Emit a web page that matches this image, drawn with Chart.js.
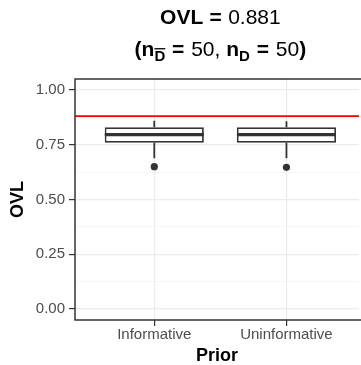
<!DOCTYPE html>
<html>
<head>
<meta charset="utf-8">
<script src="https://cdn.jsdelivr.net/npm/chart.js@4.4.1/dist/chart.umd.min.js"></script>
<style>
    html, body { margin: 0; padding: 0; background: #ffffff; overflow: hidden; }
    #wrap { width: 361px; height: 365px; overflow: hidden; }
    canvas { display: block; }
</style>
</head>
<body>
<div id="wrap"><canvas id="ovlChart" width="363" height="365"></canvas></div>
<script>
// Boxplot summaries per prior
const priors = ['Informative', 'Uninformative'];
const whiskerLow = [0.688, 0.688];
const q1 = [0.759, 0.759];
const medians = [0.796, 0.796];
const q3 = [0.830, 0.830];
const whiskerHigh = [0.860, 0.857];
const outliers = [[0.650], [0.647]];

// Reference overlap and sample sizes
const ovl = 0.881;
const nDbar = 50;
const nD = 50;

// Axis ticks
const yMajor = [0, 0.25, 0.5, 0.75, 1];
const yMinor = [0.125, 0.375, 0.625, 0.875];

const FONT = "'Liberation Sans', Arial, Helvetica, sans-serif";
const DARK = '#333333';

// the panel runs 0.4..2.6 but is cut at the canvas edge
const X_MIN = 0.4;
const X_FULL_MAX = 2.6;
const X_VISIBLE_MAX = 2.549;

const boxData = priors.map((p, i) => ({ x: i + 1, y: [q1[i], q3[i]] }));
const outlierData = [];
outliers.forEach((vals, i) => vals.forEach(v => outlierData.push({ x: i + 1, y: v })));

// Whiskers go under the boxes
const whiskerPlugin = {
    id: 'whiskers',
    beforeDatasetsDraw(chart) {
        const { ctx, scales: { x, y } } = chart;
        ctx.save();
        ctx.strokeStyle = DARK;
        ctx.lineWidth = 1.8;
        priors.forEach((p, i) => {
            const px = x.getPixelForValue(i + 1);
            ctx.beginPath();
            ctx.moveTo(px, y.getPixelForValue(whiskerHigh[i]));
            ctx.lineTo(px, y.getPixelForValue(q3[i]));
            ctx.moveTo(px, y.getPixelForValue(q1[i]));
            ctx.lineTo(px, y.getPixelForValue(whiskerLow[i]));
            ctx.stroke();
        });
        ctx.restore();
    }
};

// Medians, then the panel frame (left, top, bottom) on top
const medianPlugin = {
    id: 'medians',
    afterDatasetsDraw(chart) {
        const { ctx, chartArea, scales: { y } } = chart;
        const bars = chart.getDatasetMeta(0).data;
        ctx.save();
        ctx.strokeStyle = DARK;
        ctx.lineWidth = 3.4;
        bars.forEach((bar, i) => {
            const py = y.getPixelForValue(medians[i]);
            ctx.beginPath();
            ctx.moveTo(bar.x - bar.width / 2, py);
            ctx.lineTo(bar.x + bar.width / 2, py);
            ctx.stroke();
        });
        ctx.lineWidth = 1.5;
        ctx.beginPath();
        ctx.moveTo(chart.width, chartArea.top);
        ctx.lineTo(chartArea.left, chartArea.top);
        ctx.lineTo(chartArea.left, chartArea.bottom);
        ctx.lineTo(chart.width, chartArea.bottom);
        ctx.stroke();
        ctx.restore();
    }
};

// Draw a run of text pieces, each with its own weight, size, padding and baseline shift
function drawRun(ctx, pieces, cx, baseline) {
    const widths = pieces.map(p => {
        ctx.font = (p.bold ? 'bold ' : '') + p.size + 'px ' + FONT;
        return ctx.measureText(p.text).width + 2 * (p.pad || 0);
    });
    let x = cx - widths.reduce((a, b) => a + b, 0) / 2;
    pieces.forEach((p, i) => {
        ctx.font = (p.bold ? 'bold ' : '') + p.size + 'px ' + FONT;
        const by = baseline + (p.shift || 0);
        ctx.fillText(p.text, x + (p.pad || 0), by);
        if (p.overline) {
            ctx.fillRect(x, by - p.size * 0.86, widths[i], 1.3);
        }
        x += widths[i];
    });
}

const titlePlugin = {
    id: 'ovlTitle',
    afterDraw(chart) {
        const { ctx, scales: { x } } = chart;
        const cx = x.getPixelForValue((X_MIN + X_FULL_MAX) / 2);
        ctx.save();
        ctx.fillStyle = '#000000';
        ctx.textAlign = 'left';
        ctx.textBaseline = 'alphabetic';
        drawRun(ctx, [
            { text: 'OVL', bold: true, size: 21 },
            { text: ' = ', bold: true, size: 21, pad: 0.5 },
            { text: ovl.toFixed(3), size: 21 }
        ], cx, 24);
        drawRun(ctx, [
            { text: '(n', bold: true, size: 21 },
            { text: 'D', bold: true, size: 15, shift: 5, overline: true },
            { text: ' = ', bold: true, size: 21, pad: 1 },
            { text: String(nDbar), size: 21 },
            { text: ', ', size: 21 },
            { text: 'n', bold: true, size: 21 },
            { text: 'D', bold: true, size: 15, shift: 5 },
            { text: ' = ', bold: true, size: 21, pad: 1 },
            { text: String(nD), size: 21 },
            { text: ')', bold: true, size: 21 }
        ], cx, 56);
        ctx.restore();
    }
};

new Chart(document.getElementById('ovlChart'), {
    type: 'bar',
    data: {
        datasets: [
            {
                label: 'box',
                data: boxData,
                backgroundColor: '#ffffff',
                borderColor: DARK,
                borderWidth: 1.8,
                borderSkipped: false,
                categoryPercentage: 1,
                barPercentage: 0.75
            },
            {
                type: 'scatter',
                label: 'outliers',
                data: outlierData,
                backgroundColor: DARK,
                borderColor: DARK,
                pointRadius: 3.6,
                borderWidth: 0
            },
            {
                type: 'line',
                label: 'ovl',
                data: [{ x: X_MIN, y: ovl }, { x: X_FULL_MAX, y: ovl }],
                borderColor: '#ff0000',
                borderWidth: 1.8,
                pointRadius: 0,
                fill: false
            }
        ]
    },
    options: {
        responsive: false,
        animation: false,
        layout: { padding: { top: 79, right: 0, bottom: 0, left: 0 } },
        plugins: {
            legend: { display: false },
            tooltip: { enabled: false }
        },
        scales: {
            x: {
                type: 'linear',
                min: X_MIN,
                max: X_VISIBLE_MAX,
                offset: false,
                afterBuildTicks: scale => { scale.ticks = priors.map((p, i) => ({ value: i + 1 })); },
                afterFit: scale => { scale.height = 45; },
                grid: {
                    offset: false,
                    color: c => (c.tick && priors[c.tick.value - 1]) ? '#ebebeb' : 'rgba(0,0,0,0)',
                    lineWidth: 1.2,
                    tickColor: c => (c.tick && priors[c.tick.value - 1]) ? DARK : 'rgba(0,0,0,0)',
                    tickLength: 6,
                    tickWidth: 1.2
                },
                border: { display: false },
                ticks: {
                    color: '#4d4d4d',
                    padding: 1,
                    maxRotation: 0,
                    font: { family: FONT, size: 15, lineHeight: 1 },
                    callback: value => priors[value - 1]
                },
                title: {
                    display: true,
                    text: 'Prior',
                    color: '#000000',
                    padding: { top: 0, bottom: 0 },
                    font: { family: FONT, size: 18, weight: 'bold', lineHeight: 1 }
                }
            },
            y: {
                type: 'linear',
                min: -0.05,
                max: 1.05,
                afterBuildTicks: scale => {
                    scale.ticks = yMajor.concat(yMinor).sort((a, b) => a - b).map(v => ({ value: v }));
                },
                afterFit: scale => { scale.width = 75; },
                grid: {
                    color: c => yMinor.includes(c.tick.value) ? '#f2f2f2' : '#ebebeb',
                    lineWidth: c => yMinor.includes(c.tick.value) ? 0.8 : 1.2,
                    tickColor: c => yMinor.includes(c.tick.value) ? 'rgba(0,0,0,0)' : DARK,
                    tickLength: 6,
                    tickWidth: 1.2
                },
                border: { display: false },
                ticks: {
                    color: '#4d4d4d',
                    padding: 4,
                    font: { family: FONT, size: 15 },
                    callback: value => yMajor.includes(value) ? value.toFixed(2) : ''
                },
                title: {
                    display: true,
                    text: 'OVL',
                    color: '#000000',
                    padding: { top: 9, bottom: 0 },
                    font: { family: FONT, size: 18, weight: 'bold', lineHeight: 1 }
                }
            }
        }
    },
    plugins: [whiskerPlugin, medianPlugin, titlePlugin]
});
</script>
</body>
</html>
